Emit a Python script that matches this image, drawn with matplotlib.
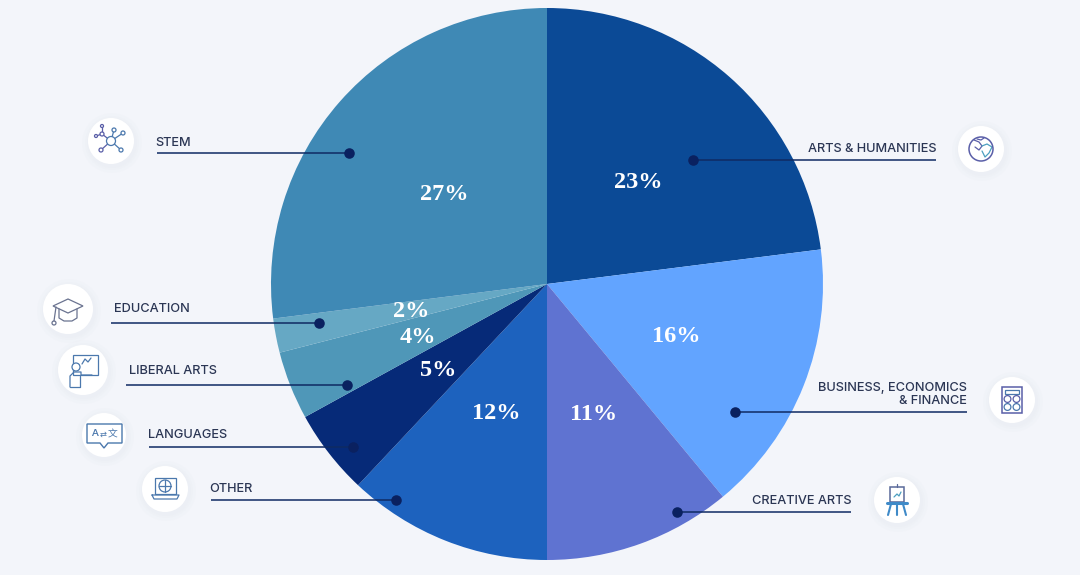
import matplotlib
matplotlib.use("Agg")
from matplotlib import pyplot as plt
from matplotlib.patches import Circle, Polygon, Rectangle

# clockwise from 12 o'clock
categories = ["Arts & Humanities", "Business", "Creative Arts", "Other",
              "Languages", "Liberal Arts", "Education", "STEM"]
shares = [23, 16, 11, 12, 5, 4, 2, 27]
colors = ["#0b4a96", "#62a4ff", "#5f73d1", "#1d62be",
          "#062a78", "#4f97b8", "#66a8c4", "#3f89b5"]

BG = "#f3f5fa"
NAVY = "#0f2a63"
TXT = "#2b3654"
ICON = "#4b78ad"
ICON2 = "#5a5fa8"

# pixel layout of the picture
cx, cy, radius = 547, 284, 276
pct_pos = [(638, 180), (676, 334), (594, 412), (496, 411),
           (438, 368), (418, 335), (411, 309), (444, 192)]
# text, text x, text y, align, line x0, line x1, line y
leaders = [
    ("ARTS & HUMANITIES", 936, 148, "right", 693, 936, 160),
    ("BUSINESS, ECONOMICS\n& FINANCE", 967, 393, "right", 735, 967, 412),
    ("CREATIVE ARTS", 851, 499, "right", 677, 851, 512),
    ("OTHER", 209, 488, "left", 211, 396, 500),
    ("LANGUAGES", 148, 434, "left", 149, 353, 447),
    ("LIBERAL ARTS", 129, 369, "left", 126, 347, 385),
    ("EDUCATION", 114, 308, "left", 111, 319, 323),
    ("STEM", 155, 141, "left", 157, 349, 153),
]


def line(ax, x, y, xs, ys, color=ICON, lw=0.9):
    ax.plot([x + v for v in xs], [y + v for v in ys], color=color, lw=lw,
            solid_capstyle="round", zorder=7)


def ring(ax, x, y, r, color=ICON, lw=0.9, fc="none"):
    ax.add_patch(Circle((x, y), r, fc=fc, ec=color, lw=lw, zorder=8))


def box(ax, x, y, w, h, color=ICON, lw=0.9):
    ax.add_patch(Rectangle((x, y), w, h, fc="none", ec=color, lw=lw, zorder=7))


def icon_stem(ax, x, y):
    for dx, dy in [(-10, 9), (10, 9), (12, -8), (3, -11), (-9, -7)]:
        line(ax, x, y, [0, dx], [0, dy], ICON2 if dx < 0 else ICON)
        ring(ax, x + dx, y + dy, 2, ICON2 if dx < 0 else ICON, fc="white")
    line(ax, x, y, [-9, -9], [-7, -15], ICON2)
    ring(ax, x - 9, y - 15, 1.5, ICON2, fc="white")
    line(ax, x, y, [-9, -15], [-7, -5], ICON2)
    ring(ax, x - 15, y - 5, 1.5, ICON2, fc="white")
    ring(ax, x, y, 4.5, ICON, fc="white")


def icon_education(ax, x, y):
    ax.add_patch(Polygon([(x - 15, y - 3), (x, y - 10), (x + 15, y - 3), (x, y + 4)],
                         fc="none", ec="#6a7390", lw=0.9, zorder=7))
    line(ax, x, y, [-9, -9, -4, 4, 9, 9], [0, 9, 12, 12, 9, 0], "#6a7390")
    line(ax, x, y, [-12, -14], [-2, 12], "#6a7390")
    ring(ax, x - 14, y + 14, 2, "#6a7390")


def icon_liberal(ax, x, y):
    box(ax, x - 10, y - 15, 25, 20)
    ring(ax, x - 7, y - 3, 4, fc="white")
    line(ax, x, y, [-13, -13, -9, -9, -2, -2, 9],
         [17, 6, 2, 2, 2, 5, 5])
    line(ax, x, y, [-13, -3, -3], [17, 17, 6])
    line(ax, x, y, [-1, 2, 5, 8], [-6, -11, -8, -12])


def icon_languages(ax, x, y):
    ax.add_patch(Polygon([(x - 17, y - 11), (x + 18, y - 11), (x + 18, y + 8), (x + 4, y + 8),
                          (x, y + 13), (x - 4, y + 8), (x - 17, y + 8)],
                         fc="none", ec=ICON, lw=1.0, zorder=7))
    ax.text(x - 10, y - 1, "A", fontsize=7, color=ICON, ha="center", va="center",
            fontfamily="Lato", fontweight="bold", zorder=7)
    ax.text(x - 1, y - 1, "⇄", fontsize=6, color=ICON, ha="center", va="center", zorder=7)
    ax.text(x + 9, y - 1, "文", fontsize=7, color=ICON, ha="center", va="center",
            fontfamily="Noto Sans CJK SC", zorder=7)


def icon_other(ax, x, y):
    box(ax, x - 10, y - 11, 21, 16)
    line(ax, x, y, [-13, 14, 12, -11, -13], [6, 6, 10, 10, 6])
    ring(ax, x, y - 3, 6)
    line(ax, x, y, [-6, 6], [-3, -3])
    line(ax, x, y, [0, 0], [-9, 3])


def icon_arts(ax, x, y):
    ring(ax, x, y, 12, ICON2, lw=1.1)
    line(ax, x, y, [-7, -2, 1, -2, -6], [-9, -7, -3, 1, -2], ICON2)
    line(ax, x, y, [1, 6, 11, 8, 4, 1], [-3, -5, -2, 4, 8, 2], "#4c9fc0")
    line(ax, x, y, [-4, 0, 3], [-10, -9, -11], ICON2)


def icon_business(ax, x, y):
    box(ax, x - 10, y - 13, 20, 26, ICON2, lw=1.1)
    box(ax, x - 7, y - 10, 14, 4, ICON)
    for dx in (-4.5, 4.5):
        for dy in (-1, 7):
            ring(ax, x + dx, y + dy, 3.4, ICON2 if dy < 0 else ICON)


def icon_creative(ax, x, y):
    box(ax, x - 7, y - 13, 14, 15, "#5a6a9a", lw=1.1)
    line(ax, x, y, [-3, 0, 2, 4], [-3, -6, -4, -8], "#4c9fc0")
    line(ax, x, y, [0, 0], [-16, -13], "#5a6a9a")
    line(ax, x, y, [-10, 10], [3, 3], "#3f8ac8", lw=2.2)
    line(ax, x, y, [-6, -9], [4, 15], "#3f8ac8", lw=1.5)
    line(ax, x, y, [0, 0], [4, 15], "#3f8ac8", lw=1.5)
    line(ax, x, y, [6, 9], [4, 15], "#3f8ac8", lw=1.5)


# icon, centre x, centre y, circle radius
icons = [
    (icon_stem, 111, 141, 23), (icon_education, 68, 309, 25),
    (icon_liberal, 83, 370, 25), (icon_languages, 104, 435, 22),
    (icon_other, 165, 489, 23), (icon_arts, 981, 149, 23),
    (icon_business, 1012, 400, 23), (icon_creative, 897, 500, 23),
]

fig = plt.figure(figsize=(10.8, 5.75), dpi=100, facecolor=BG)
ax = fig.add_axes([0, 0, 1, 1])

# y axis is flipped below, so counterclock here reads clockwise on screen
ax.pie(shares, colors=colors, startangle=-90, counterclock=True,
       center=(cx, cy), radius=radius, wedgeprops=dict(linewidth=0))
ax.set_xlim(0, 1080)
ax.set_ylim(575, 0)
ax.set_aspect("equal")
ax.axis("off")

for value, (px, py) in zip(shares, pct_pos):
    ax.text(px, py, f"{value}%", color="white", fontsize=17.5, ha="center", va="center_baseline",
            fontfamily="Liberation Serif", fontweight="bold", zorder=5)

for text, tx, ty, align, x0, x1, ly in leaders:
    ax.plot([x0, x1], [ly, ly], color=NAVY, lw=1.1, zorder=3, solid_capstyle="butt")
    dot_x = x0 if align == "right" else x1
    ax.plot([dot_x], [ly], "o", color="#0a2160", ms=7.6, mew=0, zorder=4)
    ax.text(tx, ty, text, color=TXT, fontsize=9.2, ha=align, va="center_baseline", fontfamily="Inter",
            fontweight="medium", multialignment=align, linespacing=1.0, zorder=5)

for draw, x, y, r in icons:
    # soft shadow built from a few faint rings
    for grow in (7, 4, 2):
        ax.add_patch(Circle((x + 1, y + 2), r + grow, fc="#e2e5ee", ec="none", alpha=0.12, zorder=1))
    ax.add_patch(Circle((x, y), r, fc="white", ec="none", zorder=6))
    draw(ax, x, y)

fig.savefig("out.png", dpi=100, facecolor=BG)
